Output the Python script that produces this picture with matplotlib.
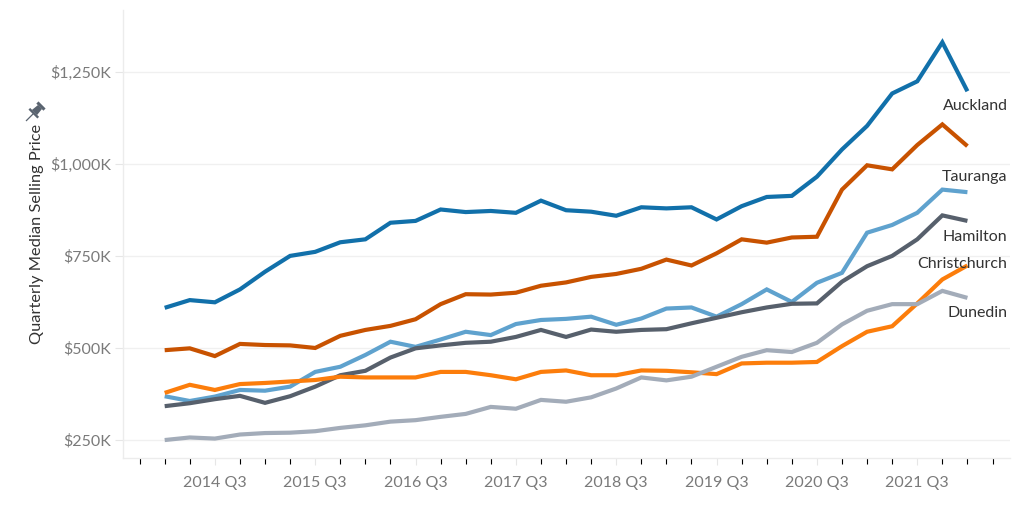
import matplotlib
matplotlib.use("Agg")
import matplotlib.pyplot as plt
from matplotlib.patches import Polygon
from matplotlib.transforms import Affine2D
from matplotlib.ticker import FuncFormatter, FixedLocator

# quarterly median selling price ($K), 2014 Q1 .. 2022 Q1
quarters = [f"{y} Q{q}" for y in range(2014, 2023) for q in range(1, 5)][:33]

auckland = [609, 630, 624, 659, 707, 750, 761, 787, 795, 840, 845, 876, 869, 872, 867,
            900, 874, 870, 859, 882, 879, 882, 849, 885, 910, 913, 965, 1039, 1103,
            1191, 1224, 1330, 1197]
wellington = [494, 499, 478, 511, 508, 507, 500, 533, 549, 560, 578, 619, 646, 645, 650,
              669, 678, 693, 701, 715, 740, 724, 757, 795, 786, 800, 802, 930, 996,
              985, 1051, 1107, 1048]
tauranga = [369, 356, 368, 386, 384, 395, 435, 449, 481, 517, 503, 523, 544, 535, 565,
            576, 579, 585, 563, 580, 607, 610, 585, 619, 659, 625, 677, 704, 813,
            834, 867, 930, 923]
hamilton = [342, 350, 361, 370, 351, 369, 395, 426, 438, 474, 499, 507, 514, 517, 530,
            549, 530, 550, 544, 549, 551, 567, 582, 597, 610, 620, 621, 680, 722,
            750, 795, 860, 845]
christchurch = [378, 400, 386, 402, 405, 409, 413, 422, 420, 420, 420, 435, 435, 426, 415,
                435, 439, 426, 426, 439, 438, 434, 429, 458, 460, 460, 462, 505, 544,
                559, 621, 686, 724]
dunedin = [250, 257, 254, 265, 269, 270, 274, 283, 290, 300, 304, 313, 321, 340, 335,
           359, 354, 366, 390, 420, 412, 422, 449, 476, 494, 489, 514, 564, 601,
           619, 619, 655, 636]

series = [auckland, wellington, tauranga, hamilton, christchurch, dunedin]
colors = ["#1170aa", "#c85200", "#5fa2ce", "#57606c", "#fc7d0b", "#a3acb9"]

label_names = ["Auckland", "Tauranga", "Hamilton", "Christchurch", "Dunedin"]
label_y = [1157, 965, 802, 727, 594]

yticks = [250, 500, 750, 1000, 1250]

plt.rcParams["font.family"] = ["Lato", "DejaVu Sans"]

fig = plt.figure(figsize=(10.24, 5.12), dpi=100)
ax = fig.add_axes([0.1204, 0.106, 0.866, 0.874])

x = list(range(len(quarters)))
for vals, c in zip(series, colors):
    ax.plot(x, vals, color=c, lw=3.0, solid_joinstyle="miter", solid_capstyle="butt")

for name, yv in zip(label_names, label_y):
    ax.text(33.6, yv, name, ha="right", va="center", fontsize=11.5, color="#333333")

ax.set_xlim(-1.65, 33.7)
ax.set_ylim(202, 1417)

ax.set_yticks(yticks)
ax.yaxis.set_major_formatter(FuncFormatter(lambda v, p: f"${v:,.0f}K"))
ax.set_xticks([i for i, q in enumerate(quarters) if q.endswith("Q3")])
ax.set_xticklabels([q for q in quarters if q.endswith("Q3")])
ax.xaxis.set_minor_locator(FixedLocator(list(range(-1, 34))))

ax.tick_params(axis="both", colors="#e6e6e6", labelcolor="#7a7a7a", labelsize=11.5)
ax.tick_params(axis="y", length=6, width=0.8, pad=3)
ax.tick_params(axis="x", which="major", length=5, width=0.8, pad=8)
ax.tick_params(axis="x", which="minor", length=4, width=0.8)

ax.grid(axis="y", color="#f0f0f0", lw=1.0)
ax.set_axisbelow(True)
for s in ["top", "right"]:
    ax.spines[s].set_visible(False)
for s in ["left", "bottom"]:
    ax.spines[s].set_color("#ececec")
    ax.spines[s].set_linewidth(1.0)

ax.set_ylabel("Quarterly Median Selling Price", fontsize=11.8, color="#333333")
ax.yaxis.set_label_coords(-0.089, 0.5)

# small pushpin glyph above the axis title (drawn pointing down, then tilted)
pin_tf = Affine2D().rotate_deg(-45).scale(1.4).translate(35.9, 400.9)
pin_parts = [
    [(-0.45, -10), (0.45, -10), (0.45, -2.5), (-0.45, -2.5)],   # needle
    [(-4.5, -3), (4.5, -3), (4.5, -1.3), (-4.5, -1.3)],         # plate
    [(-2.6, -1.5), (2.6, -1.5), (2.0, 4.2), (-2.0, 4.2)],       # body
    [(-3.6, 4), (3.6, 4), (3.6, 6.2), (-3.6, 6.2)],             # head
]
for part in pin_parts:
    fig.add_artist(Polygon(part, closed=True, transform=pin_tf, color="#5a6470", lw=0))

fig.savefig("out.png", dpi=100)
